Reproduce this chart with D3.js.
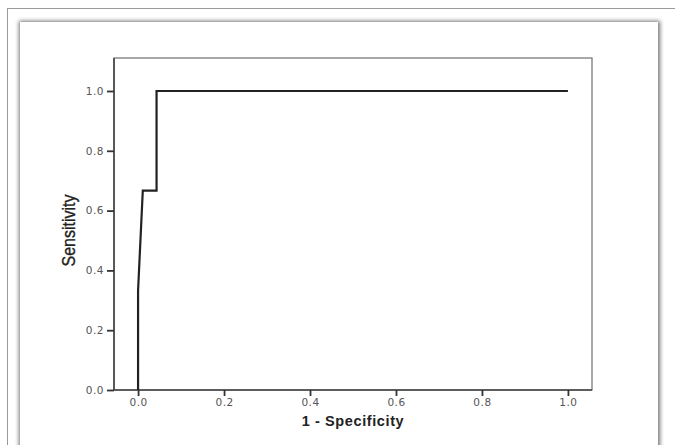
<!DOCTYPE html>
<html>
<head>
<meta charset="utf-8">
<script src="https://cdn.jsdelivr.net/npm/d3@7"></script>
<style>
  body { margin: 0; background: #fff; }
  svg { display: block; }
</style>
</head>
<body>
<div id="chart"></div>
<script>
// ROC curve points
var fpr = [0, 0, 0.011, 0.043, 0.043, 1];
var sens = [0, 0.333, 0.667, 0.667, 1, 1];
var xTicks = [0, 0.2, 0.4, 0.6, 0.8, 1.0];
var yTicks = [0, 0.2, 0.4, 0.6, 0.8, 1.0];

var svgWidth = 675;
var svgHeight = 445;

var svg = d3.select("#chart")
  .append("svg")
  .attr("width", svgWidth)
  .attr("height", svgHeight);

// shadow for the inner panel
var defs = svg.append("defs");
var f = defs.append("filter").attr("id", "shadow")
  .attr("x", "-5%").attr("y", "-5%").attr("width", "110%").attr("height", "110%");
f.append("feGaussianBlur").attr("in", "SourceAlpha").attr("stdDeviation", 2.2);

// outer frame
svg.append("rect")
  .attr("x", 7.5).attr("y", 8.5)
  .attr("width", 700).attr("height", 460)
  .attr("fill", "#fff").attr("stroke", "#9a9a9a").attr("stroke-width", 1);

// inner panel with soft edge
svg.append("rect")
  .attr("x", 19).attr("y", 21)
  .attr("width", 641).attr("height", 440)
  .attr("fill", "#777").attr("opacity", 0.55)
  .attr("filter", "url(#shadow)");
svg.append("rect")
  .attr("x", 20).attr("y", 22)
  .attr("width", 638).attr("height", 440)
  .attr("fill", "#fff");

// plot area
var plotL = 114, plotR = 592, plotT = 58, plotB = 390;

var xScale = d3.scaleLinear().domain([-0.056, 1.056]).range([plotL, plotR]);
var yScale = d3.scaleLinear().domain([0, 1]).range([390, 91]);

// box
svg.append("rect")
  .attr("x", plotL).attr("y", plotT)
  .attr("width", plotR - plotL).attr("height", plotB - plotT)
  .attr("fill", "none").attr("stroke", "#7a7a7a").attr("stroke-width", 1.3);

var bottomAxis = d3.axisBottom(xScale)
  .tickValues(xTicks).tickSize(6).tickSizeOuter(0)
  .tickFormat(d3.format(".1f"));
var leftAxis = d3.axisLeft(yScale)
  .tickValues(yTicks).tickSize(7).tickSizeOuter(0)
  .tickFormat(d3.format(".1f"));

var gx = svg.append("g")
  .attr("transform", `translate(0, ${plotB})`)
  .call(bottomAxis);
var gy = svg.append("g")
  .attr("transform", `translate(${plotL}, 0)`)
  .call(leftAxis);

gx.select(".domain").attr("stroke", "#444").attr("stroke-width", 1.6)
  .attr("d", `M${plotL},0H${plotR}`);
gy.select(".domain").attr("stroke", "#444").attr("stroke-width", 1.6)
  .attr("d", `M0,${plotB}V${plotT}`);

[gx, gy].forEach(function(g) {
  g.selectAll(".tick line").attr("stroke", "#333").attr("stroke-width", 1.8);
  g.selectAll(".tick text")
    .attr("fill", "#555")
    .style("font-family", "DejaVu Sans, Verdana, sans-serif")
    .style("font-size", "10.5px")
    .style("letter-spacing", "0.5px");
});
gx.selectAll(".tick text").attr("dy", "1.05em").attr("y", 5);
gy.selectAll(".tick text").attr("x", -10);

// axis titles
svg.append("text")
  .attr("x", xScale(0.5))
  .attr("y", 426)
  .attr("text-anchor", "middle")
  .style("font-family", "Liberation Sans, Arial, sans-serif")
  .style("font-size", "14.5px")
  .style("font-weight", "bold")
  .style("letter-spacing", "0.6px")
  .attr("fill", "#222")
  .text("1 - Specificity");

// tall, narrow label
svg.append("text")
  .attr("transform", `translate(75, ${yScale(0.5) - 10}) rotate(-90) scale(1.0, 1.15)`)
  .attr("text-anchor", "middle")
  .style("font-family", "Liberation Sans, Arial, sans-serif")
  .style("font-size", "16px")
  .attr("fill", "#222")
  .attr("stroke", "#222")
  .attr("stroke-width", 0.3)
  .text("Sensitivity");

// the curve
var pts = fpr.map(function(d, i) { return [d, sens[i]]; });
var line = d3.line()
  .x(d => xScale(d[0]))
  .y(d => yScale(d[1]));

svg.append("path")
  .datum(pts)
  .attr("d", line)
  .attr("fill", "none")
  .attr("stroke", "#222")
  .attr("stroke-width", 2.2)
  .attr("stroke-linejoin", "miter");
</script>
</body>
</html>
